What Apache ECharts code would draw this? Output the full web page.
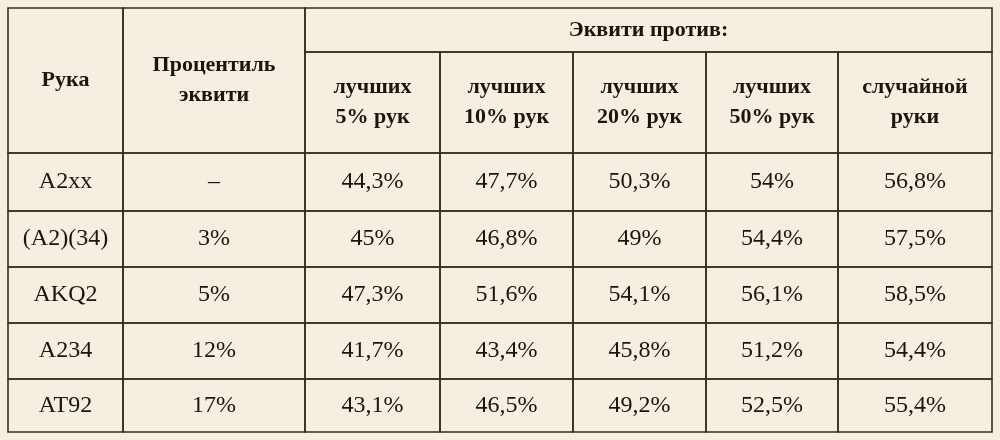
<!DOCTYPE html>
<html><head><meta charset="utf-8">
<script src="https://cdn.jsdelivr.net/npm/echarts@6/dist/echarts.min.js"></script>
<style>html,body{margin:0;padding:0;background:#f4efe1}#c{width:1000px;height:440px}</style>
</head><body><div id="c"></div>
<script>
const hands = ['A2xx','(A2)(34)','AKQ2','A234','AT92'];
const percentile = ['–','3%','5%','12%','17%'];
const vsTop5 = ['44,3%','45%','47,3%','41,7%','43,1%'];
const vsTop10 = ['47,7%','46,8%','51,6%','43,4%','46,5%'];
const vsTop20 = ['50,3%','49%','54,1%','45,8%','49,2%'];
const vsTop50 = ['54%','54,4%','56,1%','51,2%','52,5%'];
const vsRandom = ['56,8%','57,5%','58,5%','54,4%','55,4%'];
const headHand = 'Рука';
const headPct = 'Процентиль\nэквити';
const headGroup = 'Эквити против:';
const subHeads = ['лучших\n5% рук','лучших\n10% рук','лучших\n20% рук','лучших\n50% рук','случайной\nруки'];

// layout (pixel grid)
const colX = [8,123,305,440,573,706,838,992];
const rowY = [8,52,153,211,267,323,379,432];

const cells = [];
cells.push([0,1,0,2,headHand,1]);
cells.push([1,2,0,2,headPct,1]);
cells.push([2,7,0,1,headGroup,1]);
subHeads.forEach((t,i)=>cells.push([2+i,3+i,1,2,t,1]));
const cols=[hands,percentile,vsTop5,vsTop10,vsTop20,vsTop50,vsRandom];
hands.forEach((_,r)=>cols.forEach((arr,c)=>cells.push([c,c+1,2+r,3+r,arr[r],0])));

const chart = echarts.init(document.getElementById('c'));
chart.setOption({
  backgroundColor:'#f4efe1',
  animation:false,
  grid:{left:0,right:0,top:0,bottom:0},
  xAxis:{type:'value',min:0,max:1000,show:false},
  yAxis:{type:'value',min:0,max:440,inverse:true,show:false},
  series:[{
    type:'custom',
    data:cells.map(c=>[c[0],c[1],c[2],c[3],c[4],c[5]]),
    renderItem:(params,api)=>{
      const c0=api.value(0),c1=api.value(1),r0=api.value(2),r1=api.value(3);
      const d=cells[params.dataIndex];
      const p0=api.coord([colX[c0],rowY[r0]]);
      const p1=api.coord([colX[c1],rowY[r1]]);
      return {type:'group',children:[
        {type:'rect',shape:{x:p0[0],y:p0[1],width:p1[0]-p0[0],height:p1[1]-p0[1]},
         style:{fill:'none',stroke:'#3a2d21',lineWidth:1.6}},
        {type:'text',style:{x:(p0[0]+p1[0])/2,y:(p0[1]+p1[1])/2,text:d[4],
          align:'center',verticalAlign:'middle',fill:'#1c140d',
          font:(d[5]?'bold 22px':'24px')+' "Liberation Serif", serif',
          lineHeight:d[5]?30:26}}
      ]};
    }
  }]
});
</script></body></html>
